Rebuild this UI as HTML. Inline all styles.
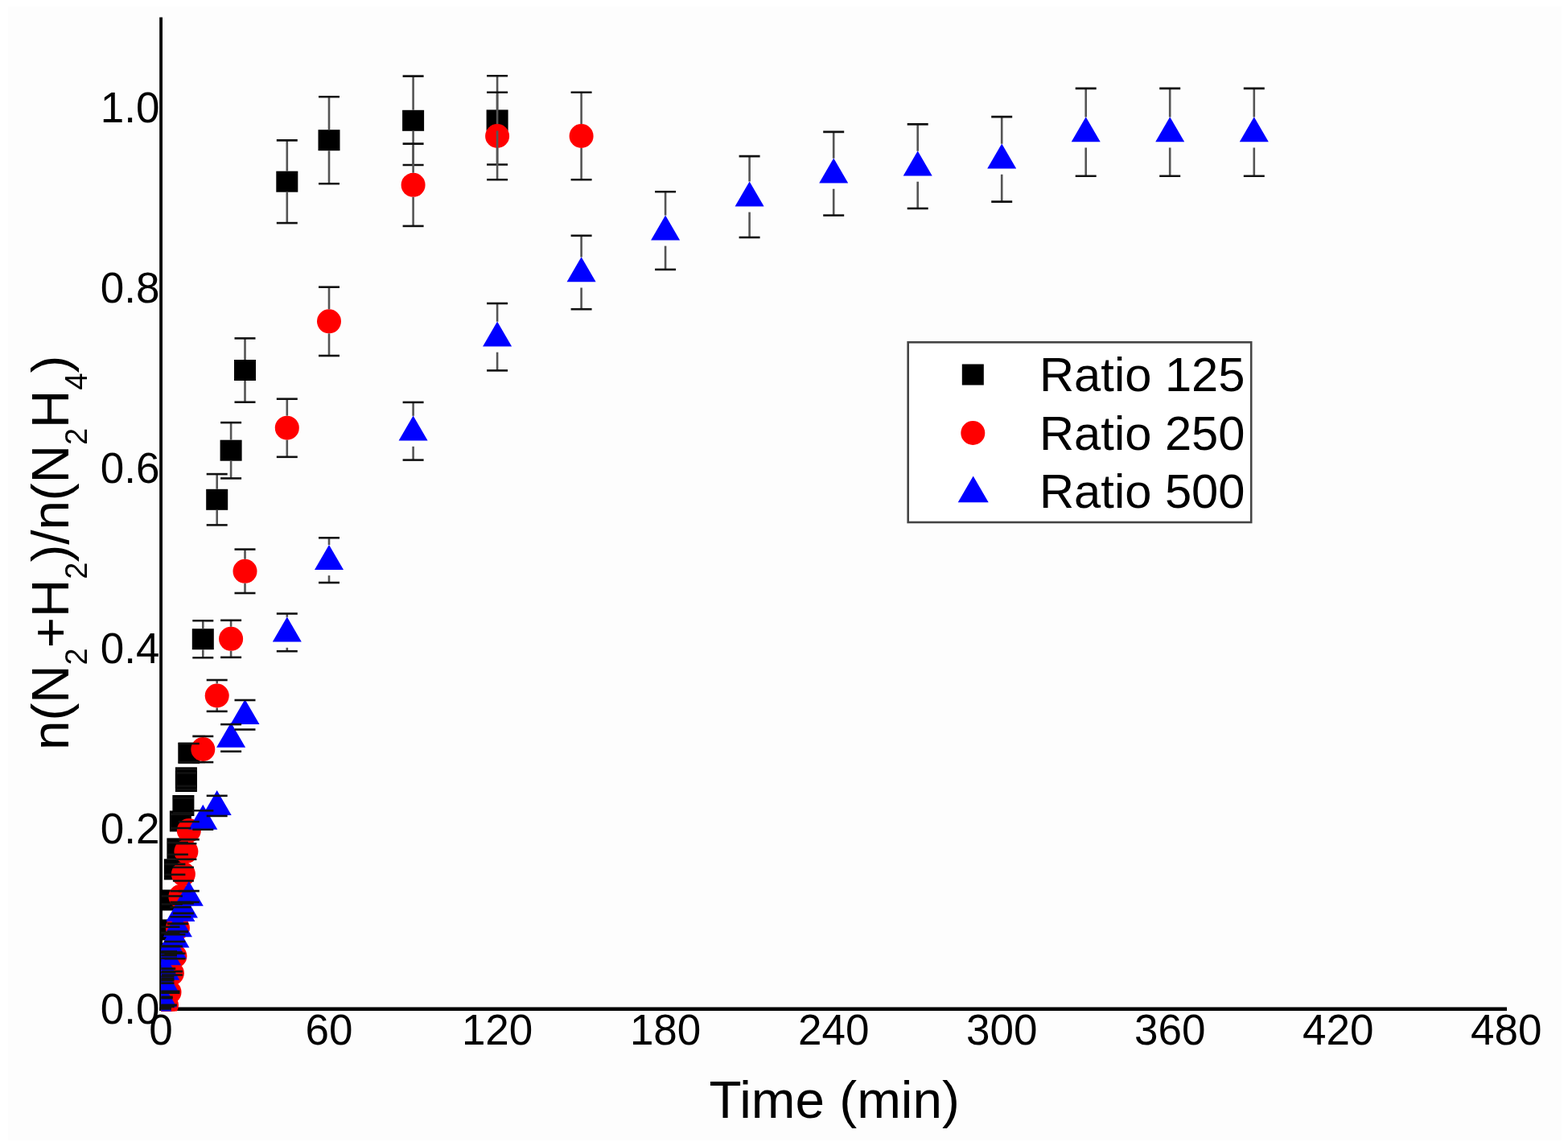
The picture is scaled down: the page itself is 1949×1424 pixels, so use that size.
<!DOCTYPE html>
<html><head><meta charset="utf-8"><title>Chart</title>
<style>html,body{margin:0;padding:0;background:#fff;}svg{display:block;}
.c{stroke-width:2.6;stroke:#111;}</style></head>
<body>
<svg width="1949" height="1424" viewBox="0 0 1949 1424">
<defs><clipPath id="pc"><rect x="200.3" y="20" width="1673" height="1236.5"/></clipPath></defs>
<rect x="10" y="8" width="1931" height="1409" fill="#fdfdfd"/>
<rect x="198.2" y="21.5" width="3.8" height="1234.5" fill="#000"/>
<rect x="198.2" y="1251.5" width="1674.8" height="4.5" fill="#000"/>
<g clip-path="url(#pc)">
<rect x="186.5" y="1240.0" width="27" height="26" fill="#000"/>
<rect x="190.0" y="1201.9" width="27" height="26" fill="#000"/>
<rect x="193.5" y="1171.7" width="27" height="26" fill="#000"/>
<rect x="197.0" y="1142.4" width="27" height="26" fill="#000"/>
<rect x="200.4" y="1105.5" width="27" height="26" fill="#000"/>
<rect x="203.9" y="1067.3" width="27" height="26" fill="#000"/>
<rect x="207.4" y="1041.4" width="27" height="26" fill="#000"/>
<rect x="210.9" y="1007.4" width="27" height="26" fill="#000"/>
<rect x="214.4" y="988.0" width="27" height="26" fill="#000"/>
<rect x="217.9" y="958.0" width="27" height="26" fill="#000"/>
<rect x="217.9" y="953.3" width="27" height="26" fill="#000"/>
<rect x="221.3" y="922.7" width="27" height="26" fill="#000"/>
<rect x="238.8" y="781.2" width="27" height="26" fill="#000"/>
<rect x="256.2" y="607.8" width="27" height="26" fill="#000"/>
<rect x="273.6" y="546.7" width="27" height="26" fill="#000"/>
<rect x="291.0" y="447.0" width="27" height="26" fill="#000"/>
<rect x="343.3" y="212.7" width="27" height="26" fill="#000"/>
<rect x="395.5" y="161.2" width="27" height="26" fill="#000"/>
<rect x="500.1" y="136.8" width="27" height="26" fill="#000"/>
<rect x="604.6" y="136.4" width="27" height="26" fill="#000"/>
<circle cx="200.0" cy="1253.0" r="15" fill="#f00"/>
<circle cx="203.5" cy="1250.8" r="15" fill="#f00"/>
<circle cx="207.0" cy="1249.0" r="15" fill="#f00"/>
<circle cx="210.5" cy="1232.8" r="15" fill="#f00"/>
<circle cx="213.9" cy="1209.3" r="15" fill="#f00"/>
<circle cx="217.4" cy="1188.0" r="15" fill="#f00"/>
<circle cx="220.9" cy="1153.0" r="15" fill="#f00"/>
<circle cx="224.4" cy="1114.1" r="15" fill="#f00"/>
<circle cx="227.9" cy="1086.1" r="15" fill="#f00"/>
<circle cx="231.4" cy="1058.0" r="15" fill="#f00"/>
<circle cx="234.8" cy="1032.0" r="15" fill="#f00"/>
<circle cx="252.3" cy="931.0" r="15" fill="#f00"/>
<circle cx="269.7" cy="864.5" r="15" fill="#f00"/>
<circle cx="287.1" cy="793.8" r="15" fill="#f00"/>
<circle cx="304.5" cy="709.8" r="15" fill="#f00"/>
<circle cx="356.8" cy="531.7" r="15" fill="#f00"/>
<circle cx="409.0" cy="399.3" r="15" fill="#f00"/>
<circle cx="513.6" cy="229.8" r="15" fill="#f00"/>
<circle cx="618.1" cy="169.0" r="15" fill="#f00"/>
<circle cx="722.6" cy="169.0" r="15" fill="#f00"/>
<polygon points="200.0,1233.8 218.0,1264.8 182.0,1264.8" fill="#00f"/>
<polygon points="201.7,1220.4 219.7,1251.4 183.7,1251.4" fill="#00f"/>
<polygon points="203.5,1200.8 221.5,1231.8 185.5,1231.8" fill="#00f"/>
<polygon points="205.2,1186.8 223.2,1217.8 187.2,1217.8" fill="#00f"/>
<polygon points="207.0,1168.3 225.0,1199.3 189.0,1199.3" fill="#00f"/>
<polygon points="210.5,1160.3 228.5,1191.3 192.5,1191.3" fill="#00f"/>
<polygon points="213.9,1160.3 231.9,1191.3 195.9,1191.3" fill="#00f"/>
<polygon points="217.4,1146.4 235.4,1177.4 199.4,1177.4" fill="#00f"/>
<polygon points="220.9,1133.3 238.9,1164.3 202.9,1164.3" fill="#00f"/>
<polygon points="224.4,1114.0 242.4,1145.0 206.4,1145.0" fill="#00f"/>
<polygon points="227.9,1109.5 245.9,1140.5 209.9,1140.5" fill="#00f"/>
<polygon points="234.8,1094.8 252.8,1125.8 216.8,1125.8" fill="#00f"/>
<polygon points="252.3,999.8 270.3,1030.8 234.3,1030.8" fill="#00f"/>
<polygon points="269.7,982.1 287.7,1013.1 251.7,1013.1" fill="#00f"/>
<polygon points="287.1,897.7 305.1,928.7 269.1,928.7" fill="#00f"/>
<polygon points="304.5,869.0 322.5,900.0 286.5,900.0" fill="#00f"/>
<polygon points="356.8,766.6 374.8,797.6 338.8,797.6" fill="#00f"/>
<polygon points="409.0,676.9 427.0,707.9 391.0,707.9" fill="#00f"/>
<polygon points="513.6,516.6 531.6,547.6 495.6,547.6" fill="#00f"/>
<polygon points="618.1,399.5 636.1,430.5 600.1,430.5" fill="#00f"/>
<polygon points="722.6,319.3 740.6,350.3 704.6,350.3" fill="#00f"/>
<polygon points="827.1,267.4 845.1,298.4 809.1,298.4" fill="#00f"/>
<polygon points="931.6,225.4 949.6,256.4 913.6,256.4" fill="#00f"/>
<polygon points="1036.2,196.6 1054.2,227.6 1018.2,227.6" fill="#00f"/>
<polygon points="1140.7,187.5 1158.7,218.5 1122.7,218.5" fill="#00f"/>
<polygon points="1245.2,178.6 1263.2,209.6 1227.2,209.6" fill="#00f"/>
<polygon points="1349.7,145.2 1367.7,176.2 1331.7,176.2" fill="#00f"/>
<polygon points="1454.2,145.2 1472.2,176.2 1436.2,176.2" fill="#00f"/>
<polygon points="1558.8,145.2 1576.8,176.2 1540.8,176.2" fill="#00f"/>
<g stroke="#555" stroke-width="2.6" fill="none">
<line class="c" x1="187.0" y1="1253.0" x2="213.0" y2="1253.0"/>
<line class="c" x1="187.0" y1="1253.0" x2="213.0" y2="1253.0"/>
<line class="c" x1="190.5" y1="1213.5" x2="216.5" y2="1213.5"/>
<line class="c" x1="190.5" y1="1216.3" x2="216.5" y2="1216.3"/>
<line class="c" x1="194.0" y1="1182.2" x2="220.0" y2="1182.2"/>
<line class="c" x1="194.0" y1="1187.2" x2="220.0" y2="1187.2"/>
<line class="c" x1="197.5" y1="1151.8" x2="223.5" y2="1151.8"/>
<line class="c" x1="197.5" y1="1159.1" x2="223.5" y2="1159.1"/>
<line class="c" x1="200.9" y1="1113.5" x2="226.9" y2="1113.5"/>
<line class="c" x1="200.9" y1="1123.5" x2="226.9" y2="1123.5"/>
<line class="c" x1="204.4" y1="1073.9" x2="230.4" y2="1073.9"/>
<line class="c" x1="204.4" y1="1086.7" x2="230.4" y2="1086.7"/>
<line class="c" x1="207.9" y1="1047.1" x2="233.9" y2="1047.1"/>
<line class="c" x1="207.9" y1="1061.8" x2="233.9" y2="1061.8"/>
<line class="c" x1="211.4" y1="1011.8" x2="237.4" y2="1011.8"/>
<line class="c" x1="211.4" y1="1029.0" x2="237.4" y2="1029.0"/>
<line class="c" x1="214.9" y1="991.7" x2="240.9" y2="991.7"/>
<line class="c" x1="214.9" y1="1010.3" x2="240.9" y2="1010.3"/>
<line class="c" x1="218.4" y1="960.5" x2="244.4" y2="960.5"/>
<line class="c" x1="218.4" y1="981.4" x2="244.4" y2="981.4"/>
<line class="c" x1="218.4" y1="955.7" x2="244.4" y2="955.7"/>
<line class="c" x1="218.4" y1="976.9" x2="244.4" y2="976.9"/>
<line class="c" x1="221.8" y1="924.0" x2="247.8" y2="924.0"/>
<line class="c" x1="221.8" y1="947.4" x2="247.8" y2="947.4"/>
<line x1="252.3" y1="771.3" x2="252.3" y2="781.2"/>
<line x1="252.3" y1="807.2" x2="252.3" y2="817.2"/>
<line class="c" x1="239.3" y1="771.3" x2="265.3" y2="771.3"/>
<line class="c" x1="239.3" y1="817.2" x2="265.3" y2="817.2"/>
<line x1="269.7" y1="589.1" x2="269.7" y2="607.8"/>
<line x1="269.7" y1="633.8" x2="269.7" y2="652.4"/>
<line class="c" x1="256.7" y1="589.1" x2="282.7" y2="589.1"/>
<line class="c" x1="256.7" y1="652.4" x2="282.7" y2="652.4"/>
<line x1="287.1" y1="525.1" x2="287.1" y2="546.7"/>
<line x1="287.1" y1="572.7" x2="287.1" y2="594.4"/>
<line class="c" x1="274.1" y1="525.1" x2="300.1" y2="525.1"/>
<line class="c" x1="274.1" y1="594.4" x2="300.1" y2="594.4"/>
<line x1="304.5" y1="420.4" x2="304.5" y2="447.0"/>
<line x1="304.5" y1="473.0" x2="304.5" y2="499.7"/>
<line class="c" x1="291.5" y1="420.4" x2="317.5" y2="420.4"/>
<line class="c" x1="291.5" y1="499.7" x2="317.5" y2="499.7"/>
<line x1="356.8" y1="174.4" x2="356.8" y2="212.7"/>
<line x1="356.8" y1="238.7" x2="356.8" y2="277.1"/>
<line class="c" x1="343.8" y1="174.4" x2="369.8" y2="174.4"/>
<line class="c" x1="343.8" y1="277.1" x2="369.8" y2="277.1"/>
<line x1="409.0" y1="120.3" x2="409.0" y2="161.2"/>
<line x1="409.0" y1="187.2" x2="409.0" y2="228.2"/>
<line class="c" x1="396.0" y1="120.3" x2="422.0" y2="120.3"/>
<line class="c" x1="396.0" y1="228.2" x2="422.0" y2="228.2"/>
<line x1="513.6" y1="94.6" x2="513.6" y2="136.8"/>
<line x1="513.6" y1="162.8" x2="513.6" y2="205.0"/>
<line class="c" x1="500.6" y1="94.6" x2="526.6" y2="94.6"/>
<line class="c" x1="500.6" y1="205.0" x2="526.6" y2="205.0"/>
<line x1="618.1" y1="94.2" x2="618.1" y2="136.4"/>
<line x1="618.1" y1="162.4" x2="618.1" y2="204.5"/>
<line class="c" x1="605.1" y1="94.2" x2="631.1" y2="94.2"/>
<line class="c" x1="605.1" y1="204.5" x2="631.1" y2="204.5"/>
<line class="c" x1="187.0" y1="1253.0" x2="213.0" y2="1253.0"/>
<line class="c" x1="187.0" y1="1253.0" x2="213.0" y2="1253.0"/>
<line class="c" x1="190.5" y1="1250.6" x2="216.5" y2="1250.6"/>
<line class="c" x1="190.5" y1="1250.9" x2="216.5" y2="1250.9"/>
<line class="c" x1="194.0" y1="1248.8" x2="220.0" y2="1248.8"/>
<line class="c" x1="194.0" y1="1249.2" x2="220.0" y2="1249.2"/>
<line class="c" x1="197.5" y1="1231.8" x2="223.5" y2="1231.8"/>
<line class="c" x1="197.5" y1="1233.8" x2="223.5" y2="1233.8"/>
<line class="c" x1="200.9" y1="1207.1" x2="226.9" y2="1207.1"/>
<line class="c" x1="200.9" y1="1211.5" x2="226.9" y2="1211.5"/>
<line class="c" x1="204.4" y1="1184.8" x2="230.4" y2="1184.8"/>
<line class="c" x1="204.4" y1="1191.3" x2="230.4" y2="1191.3"/>
<line class="c" x1="207.9" y1="1148.0" x2="233.9" y2="1148.0"/>
<line class="c" x1="207.9" y1="1158.0" x2="233.9" y2="1158.0"/>
<line class="c" x1="211.4" y1="1107.2" x2="237.4" y2="1107.2"/>
<line class="c" x1="211.4" y1="1121.1" x2="237.4" y2="1121.1"/>
<line class="c" x1="214.9" y1="1077.8" x2="240.9" y2="1077.8"/>
<line class="c" x1="214.9" y1="1094.5" x2="240.9" y2="1094.5"/>
<line class="c" x1="218.4" y1="1048.3" x2="244.4" y2="1048.3"/>
<line class="c" x1="218.4" y1="1067.8" x2="244.4" y2="1067.8"/>
<line class="c" x1="221.8" y1="1021.0" x2="247.8" y2="1021.0"/>
<line class="c" x1="221.8" y1="1043.1" x2="247.8" y2="1043.1"/>
<line x1="252.3" y1="914.9" x2="252.3" y2="916.0"/>
<line x1="252.3" y1="946.0" x2="252.3" y2="947.1"/>
<line class="c" x1="239.3" y1="914.9" x2="265.3" y2="914.9"/>
<line class="c" x1="239.3" y1="947.1" x2="265.3" y2="947.1"/>
<line x1="269.7" y1="845.0" x2="269.7" y2="849.5"/>
<line x1="269.7" y1="879.5" x2="269.7" y2="883.9"/>
<line class="c" x1="256.7" y1="845.0" x2="282.7" y2="845.0"/>
<line class="c" x1="256.7" y1="883.9" x2="282.7" y2="883.9"/>
<line x1="287.1" y1="770.8" x2="287.1" y2="778.8"/>
<line x1="287.1" y1="808.8" x2="287.1" y2="816.8"/>
<line class="c" x1="274.1" y1="770.8" x2="300.1" y2="770.8"/>
<line class="c" x1="274.1" y1="816.8" x2="300.1" y2="816.8"/>
<line x1="304.5" y1="682.6" x2="304.5" y2="694.8"/>
<line x1="304.5" y1="724.8" x2="304.5" y2="737.0"/>
<line class="c" x1="291.5" y1="682.6" x2="317.5" y2="682.6"/>
<line class="c" x1="291.5" y1="737.0" x2="317.5" y2="737.0"/>
<line x1="356.8" y1="495.7" x2="356.8" y2="516.7"/>
<line x1="356.8" y1="546.7" x2="356.8" y2="567.8"/>
<line class="c" x1="343.8" y1="495.7" x2="369.8" y2="495.7"/>
<line class="c" x1="343.8" y1="567.8" x2="369.8" y2="567.8"/>
<line x1="409.0" y1="356.7" x2="409.0" y2="384.3"/>
<line x1="409.0" y1="414.3" x2="409.0" y2="442.0"/>
<line class="c" x1="396.0" y1="356.7" x2="422.0" y2="356.7"/>
<line class="c" x1="396.0" y1="442.0" x2="422.0" y2="442.0"/>
<line x1="513.6" y1="178.6" x2="513.6" y2="214.8"/>
<line x1="513.6" y1="244.8" x2="513.6" y2="280.9"/>
<line class="c" x1="500.6" y1="178.6" x2="526.6" y2="178.6"/>
<line class="c" x1="500.6" y1="280.9" x2="526.6" y2="280.9"/>
<line x1="618.1" y1="114.7" x2="618.1" y2="154.0"/>
<line x1="618.1" y1="184.0" x2="618.1" y2="223.2"/>
<line class="c" x1="605.1" y1="114.7" x2="631.1" y2="114.7"/>
<line class="c" x1="605.1" y1="223.2" x2="631.1" y2="223.2"/>
<line x1="722.6" y1="114.7" x2="722.6" y2="154.0"/>
<line x1="722.6" y1="184.0" x2="722.6" y2="223.2"/>
<line class="c" x1="709.6" y1="114.7" x2="735.6" y2="114.7"/>
<line class="c" x1="709.6" y1="223.2" x2="735.6" y2="223.2"/>
<line class="c" x1="187.0" y1="1253.0" x2="213.0" y2="1253.0"/>
<line class="c" x1="187.0" y1="1253.0" x2="213.0" y2="1253.0"/>
<line class="c" x1="188.7" y1="1238.9" x2="214.7" y2="1238.9"/>
<line class="c" x1="188.7" y1="1240.2" x2="214.7" y2="1240.2"/>
<line class="c" x1="190.5" y1="1218.3" x2="216.5" y2="1218.3"/>
<line class="c" x1="190.5" y1="1221.6" x2="216.5" y2="1221.6"/>
<line class="c" x1="192.2" y1="1203.6" x2="218.2" y2="1203.6"/>
<line class="c" x1="192.2" y1="1208.3" x2="218.2" y2="1208.3"/>
<line class="c" x1="194.0" y1="1184.2" x2="220.0" y2="1184.2"/>
<line class="c" x1="194.0" y1="1190.8" x2="220.0" y2="1190.8"/>
<line class="c" x1="197.5" y1="1175.9" x2="223.5" y2="1175.9"/>
<line class="c" x1="197.5" y1="1183.2" x2="223.5" y2="1183.2"/>
<line class="c" x1="200.9" y1="1175.9" x2="226.9" y2="1175.9"/>
<line class="c" x1="200.9" y1="1183.2" x2="226.9" y2="1183.2"/>
<line class="c" x1="204.4" y1="1161.3" x2="230.4" y2="1161.3"/>
<line class="c" x1="204.4" y1="1170.0" x2="230.4" y2="1170.0"/>
<line class="c" x1="207.9" y1="1147.5" x2="233.9" y2="1147.5"/>
<line class="c" x1="207.9" y1="1157.6" x2="233.9" y2="1157.6"/>
<line class="c" x1="211.4" y1="1127.2" x2="237.4" y2="1127.2"/>
<line class="c" x1="211.4" y1="1139.2" x2="237.4" y2="1139.2"/>
<line class="c" x1="214.9" y1="1122.5" x2="240.9" y2="1122.5"/>
<line class="c" x1="214.9" y1="1134.9" x2="240.9" y2="1134.9"/>
<line class="c" x1="221.8" y1="1107.1" x2="247.8" y2="1107.1"/>
<line class="c" x1="221.8" y1="1121.0" x2="247.8" y2="1121.0"/>
<line class="c" x1="239.3" y1="1007.3" x2="265.3" y2="1007.3"/>
<line class="c" x1="239.3" y1="1030.7" x2="265.3" y2="1030.7"/>
<line class="c" x1="256.7" y1="988.8" x2="282.7" y2="988.8"/>
<line class="c" x1="256.7" y1="1013.9" x2="282.7" y2="1013.9"/>
<line class="c" x1="274.1" y1="900.1" x2="300.1" y2="900.1"/>
<line class="c" x1="274.1" y1="933.7" x2="300.1" y2="933.7"/>
<line class="c" x1="291.5" y1="870.0" x2="317.5" y2="870.0"/>
<line class="c" x1="291.5" y1="906.5" x2="317.5" y2="906.5"/>
<line x1="356.8" y1="762.5" x2="356.8" y2="766.8"/>
<line x1="356.8" y1="804.8" x2="356.8" y2="809.2"/>
<line class="c" x1="343.8" y1="762.5" x2="369.8" y2="762.5"/>
<line class="c" x1="343.8" y1="809.2" x2="369.8" y2="809.2"/>
<line x1="409.0" y1="668.3" x2="409.0" y2="677.1"/>
<line x1="409.0" y1="715.1" x2="409.0" y2="724.0"/>
<line class="c" x1="396.0" y1="668.3" x2="422.0" y2="668.3"/>
<line class="c" x1="396.0" y1="724.0" x2="422.0" y2="724.0"/>
<line x1="513.6" y1="499.9" x2="513.6" y2="516.8"/>
<line x1="513.6" y1="554.8" x2="513.6" y2="571.6"/>
<line class="c" x1="500.6" y1="499.9" x2="526.6" y2="499.9"/>
<line class="c" x1="500.6" y1="571.6" x2="526.6" y2="571.6"/>
<line x1="618.1" y1="377.0" x2="618.1" y2="399.7"/>
<line x1="618.1" y1="437.7" x2="618.1" y2="460.4"/>
<line class="c" x1="605.1" y1="377.0" x2="631.1" y2="377.0"/>
<line class="c" x1="605.1" y1="460.4" x2="631.1" y2="460.4"/>
<line x1="722.6" y1="292.8" x2="722.6" y2="319.5"/>
<line x1="722.6" y1="357.5" x2="722.6" y2="384.2"/>
<line class="c" x1="709.6" y1="292.8" x2="735.6" y2="292.8"/>
<line class="c" x1="709.6" y1="384.2" x2="735.6" y2="384.2"/>
<line x1="827.1" y1="238.2" x2="827.1" y2="267.6"/>
<line x1="827.1" y1="305.6" x2="827.1" y2="334.9"/>
<line class="c" x1="814.1" y1="238.2" x2="840.1" y2="238.2"/>
<line class="c" x1="814.1" y1="334.9" x2="840.1" y2="334.9"/>
<line x1="931.6" y1="194.1" x2="931.6" y2="225.6"/>
<line x1="931.6" y1="263.6" x2="931.6" y2="295.0"/>
<line class="c" x1="918.6" y1="194.1" x2="944.6" y2="194.1"/>
<line class="c" x1="918.6" y1="295.0" x2="944.6" y2="295.0"/>
<line x1="1036.2" y1="163.9" x2="1036.2" y2="196.8"/>
<line x1="1036.2" y1="234.8" x2="1036.2" y2="267.6"/>
<line class="c" x1="1023.2" y1="163.9" x2="1049.2" y2="163.9"/>
<line class="c" x1="1023.2" y1="267.6" x2="1049.2" y2="267.6"/>
<line x1="1140.7" y1="154.4" x2="1140.7" y2="187.7"/>
<line x1="1140.7" y1="225.7" x2="1140.7" y2="259.0"/>
<line class="c" x1="1127.7" y1="154.4" x2="1153.7" y2="154.4"/>
<line class="c" x1="1127.7" y1="259.0" x2="1153.7" y2="259.0"/>
<line x1="1245.2" y1="145.1" x2="1245.2" y2="178.8"/>
<line x1="1245.2" y1="216.8" x2="1245.2" y2="250.6"/>
<line class="c" x1="1232.2" y1="145.1" x2="1258.2" y2="145.1"/>
<line class="c" x1="1232.2" y1="250.6" x2="1258.2" y2="250.6"/>
<line x1="1349.7" y1="109.9" x2="1349.7" y2="145.4"/>
<line x1="1349.7" y1="183.4" x2="1349.7" y2="218.8"/>
<line class="c" x1="1336.7" y1="109.9" x2="1362.7" y2="109.9"/>
<line class="c" x1="1336.7" y1="218.8" x2="1362.7" y2="218.8"/>
<line x1="1454.2" y1="109.9" x2="1454.2" y2="145.4"/>
<line x1="1454.2" y1="183.4" x2="1454.2" y2="218.8"/>
<line class="c" x1="1441.2" y1="109.9" x2="1467.2" y2="109.9"/>
<line class="c" x1="1441.2" y1="218.8" x2="1467.2" y2="218.8"/>
<line x1="1558.8" y1="109.9" x2="1558.8" y2="145.4"/>
<line x1="1558.8" y1="183.4" x2="1558.8" y2="218.8"/>
<line class="c" x1="1545.8" y1="109.9" x2="1571.8" y2="109.9"/>
<line class="c" x1="1545.8" y1="218.8" x2="1571.8" y2="218.8"/>
</g>
</g>
<g font-family="'Liberation Sans', Arial, sans-serif" font-size="53" fill="#000">
<text x="198.5" y="1272.0" text-anchor="end">0.0</text>
<text x="198.5" y="1048.0" text-anchor="end">0.2</text>
<text x="198.5" y="824.0" text-anchor="end">0.4</text>
<text x="198.5" y="600.0" text-anchor="end">0.6</text>
<text x="198.5" y="376.0" text-anchor="end">0.8</text>
<text x="198.5" y="152.0" text-anchor="end">1.0</text>
<text x="200.0" y="1298" text-anchor="middle">0</text>
<text x="409.0" y="1298" text-anchor="middle">60</text>
<text x="618.1" y="1298" text-anchor="middle">120</text>
<text x="827.1" y="1298" text-anchor="middle">180</text>
<text x="1036.2" y="1298" text-anchor="middle">240</text>
<text x="1245.2" y="1298" text-anchor="middle">300</text>
<text x="1454.2" y="1298" text-anchor="middle">360</text>
<text x="1663.3" y="1298" text-anchor="middle">420</text>
<text x="1872.3" y="1298" text-anchor="middle">480</text>
</g>
<text x="1037.2" y="1388.5" text-anchor="middle" font-family="'Liberation Sans', Arial, sans-serif" font-size="65.7">Time (min)</text>
<text transform="translate(84.5,932) rotate(-90)" font-family="'Liberation Sans', Arial, sans-serif" font-size="65.5">n(N<tspan font-size="38" dy="23.6">2</tspan><tspan dy="-23.6">+H</tspan><tspan font-size="38" dy="23.6">2</tspan><tspan dy="-23.6">)/n(N</tspan><tspan font-size="38" dy="23.6">2</tspan><tspan dy="-23.6">H</tspan><tspan font-size="38" dy="23.6">4</tspan><tspan dy="-23.6">)</tspan></text>
<rect x="1128.7" y="425.3" width="426.5" height="223.7" fill="#fff" stroke="#444" stroke-width="2.6"/>
<rect x="1195.8" y="452.5" width="27" height="26" fill="#000"/>
<circle cx="1209.3" cy="538.0" r="15" fill="#f00"/>
<polygon points="1209.7,591.6 1228.7,624.2 1190.7,624.2" fill="#00f"/>
<g font-family="'Liberation Sans', Arial, sans-serif" font-size="59.7">
<text x="1292" y="486">Ratio 125</text>
<text x="1292" y="558.7">Ratio 250</text>
<text x="1292" y="630.7">Ratio 500</text>
</g>
</svg>
</body></html>
